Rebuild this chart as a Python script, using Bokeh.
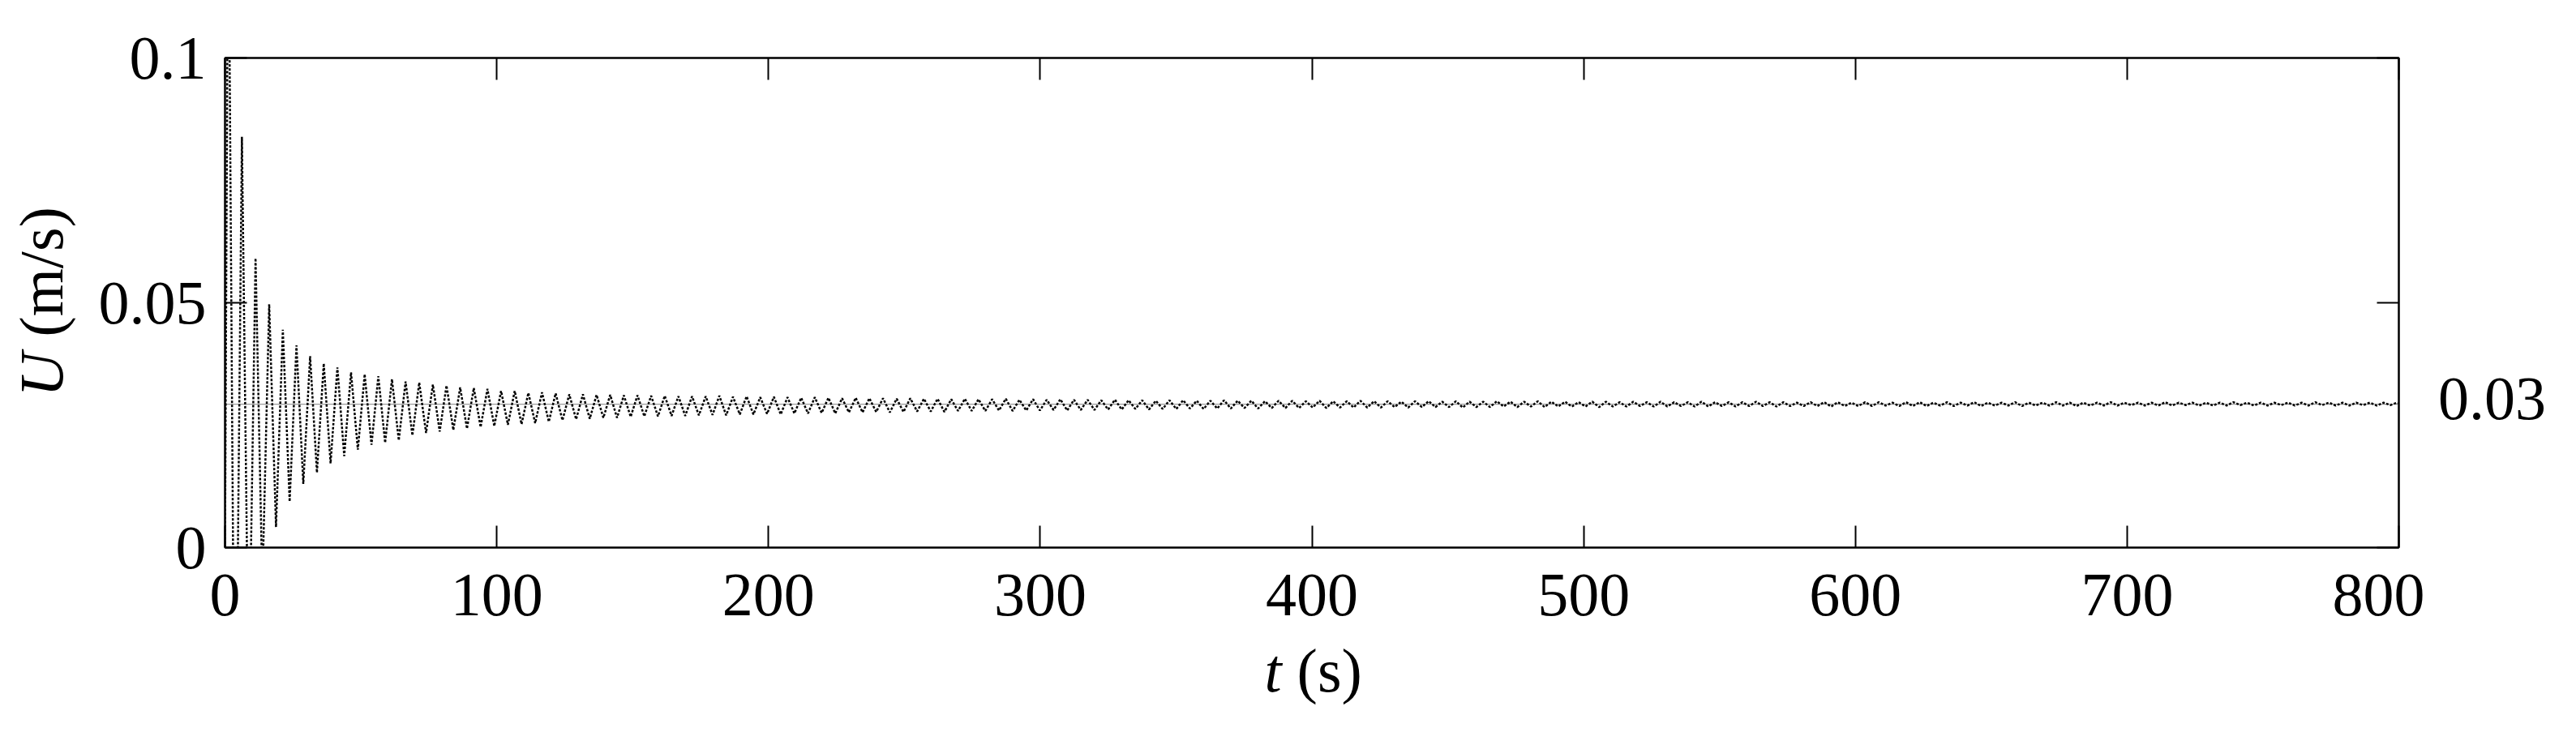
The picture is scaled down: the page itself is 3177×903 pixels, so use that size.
import math
from bokeh.plotting import figure
from bokeh.layouts import row, column
from bokeh.models import LinearAxis, FixedTicker, Label, ColumnDataSource, Range1d
from bokeh.embed import file_html
from bokeh.resources import INLINE

# ---------------- data ----------------
T_TICKS = [0, 100, 200, 300, 400, 500, 600, 700, 800]
U_TICKS = [0, 0.05, 0.1]
U_TICK_LABELS = ["0", "0.05", "0.1"]
X_LABEL = ["t", "(s)"]
Y_LABEL = ["U", "(m/s)"]
STEADY_LABEL = "0.03"
U_STEADY = 0.0293          # level of the thin grey reference line
T_START, U_START = 0.0, 0.0
FIRST_PEAK_T = 1.2         # time of first (clipped) maximum, s
PERIOD = 5.02              # oscillation period, s

# successive maxima (one per period)
PEAKS = [
    0.140, 0.0839, 0.0591, 0.0497, 0.0445, 0.0413, 0.0391, 0.0376, 0.0368, 0.0358, 0.0354, 0.0350,
    0.0344, 0.0339, 0.0337, 0.0333, 0.0331, 0.0327, 0.0326, 0.0324, 0.0320, 0.0320, 0.0316, 0.0317,
    0.0315, 0.0313, 0.0313, 0.0312, 0.0312, 0.0311, 0.0311, 0.0310, 0.0310, 0.0309, 0.0309,
    0.0309, 0.0310, 0.0308, 0.0309, 0.0307, 0.0308, 0.0307, 0.0306, 0.0307, 0.0306,
    0.0305, 0.0306, 0.0305, 0.0305, 0.0304, 0.0305, 0.0304, 0.0304, 0.0303, 0.0304,
    0.0303, 0.0303, 0.0304, 0.0302, 0.0303, 0.0302, 0.0303, 0.0302, 0.0302,
    0.0301, 0.0302, 0.0301, 0.0301, 0.0300, 0.0301, 0.0301, 0.0300, 0.0300, 0.0301,
    0.0300, 0.0300, 0.0299, 0.0300, 0.0300, 0.0299, 0.0300, 0.0299, 0.0299, 0.0300,
    0.0299, 0.0299, 0.0298, 0.0299, 0.0299, 0.0298, 0.0299, 0.0298, 0.0298, 0.0299,
    0.0298, 0.0298, 0.0299, 0.0298, 0.0298, 0.0297, 0.0298, 0.0298, 0.0297, 0.0298,
    0.0297, 0.0298, 0.0297, 0.0297, 0.0298, 0.0297, 0.0297, 0.0297, 0.0298, 0.0297,
    0.0297, 0.0296, 0.0297, 0.0297, 0.0297, 0.0296, 0.0297, 0.0297, 0.0296, 0.0297,
    0.0297, 0.0296, 0.0297,
    0.0296, 0.0297, 0.0296, 0.0296, 0.0297, 0.0296, 0.0296, 0.0297, 0.0296, 0.0296,
    0.0296, 0.0297, 0.0296, 0.0296, 0.0296, 0.0297, 0.0296, 0.0296, 0.0296, 0.0296,
    0.0297, 0.0296, 0.0296, 0.0296, 0.0296, 0.0296, 0.0297, 0.0296, 0.0296, 0.0296,
    0.0296, 0.0296, 0.0296,
]
# successive minima (half a period after each maximum)
TROUGHS = [
    -0.060, -0.030, -0.008, 0.0042, 0.0094, 0.0130, 0.0153, 0.0172, 0.0187, 0.0200, 0.0210,
    0.0214, 0.0219, 0.0229, 0.0234, 0.0237, 0.0240, 0.0243, 0.0246, 0.0248, 0.0251, 0.0252,
    0.0254, 0.0257, 0.0260,
    0.0262, 0.0263, 0.0265, 0.0265, 0.0267, 0.0268, 0.0268, 0.0269, 0.0269, 0.0270,
    0.0271, 0.0270, 0.0272, 0.0272, 0.0273, 0.0272, 0.0274, 0.0274, 0.0275, 0.0274,
    0.0276, 0.0276, 0.0277, 0.0276, 0.0277, 0.0278, 0.0278, 0.0277, 0.0279, 0.0279,
    0.0279, 0.0280, 0.0279, 0.0280, 0.0280, 0.0281, 0.0280, 0.0281, 0.0281,
    0.0282, 0.0282, 0.0283, 0.0282, 0.0283, 0.0283, 0.0284, 0.0283, 0.0284, 0.0284,
    0.0285, 0.0284, 0.0285, 0.0285, 0.0285, 0.0286, 0.0285, 0.0286, 0.0286, 0.0286,
    0.0286, 0.0287, 0.0286, 0.0287, 0.0287, 0.0287, 0.0286, 0.0287, 0.0287, 0.0288,
    0.0287, 0.0288, 0.0287, 0.0288, 0.0288, 0.0288, 0.0287, 0.0288, 0.0288, 0.0289,
    0.0288, 0.0288, 0.0289, 0.0288, 0.0288, 0.0289, 0.0288, 0.0289, 0.0289, 0.0288,
    0.0289, 0.0289, 0.0289, 0.0288, 0.0289, 0.0289, 0.0289, 0.0290, 0.0289, 0.0289,
    0.0289, 0.0290, 0.0289,
    0.0290, 0.0289, 0.0290, 0.0290, 0.0289, 0.0290, 0.0290, 0.0290, 0.0289, 0.0290,
    0.0290, 0.0290, 0.0291, 0.0290, 0.0290, 0.0290, 0.0291, 0.0290, 0.0290, 0.0290,
    0.0291, 0.0290, 0.0290, 0.0291, 0.0290, 0.0290, 0.0291, 0.0290, 0.0290, 0.0291,
    0.0290, 0.0291, 0.0290,
]

# ---------------- build the series ----------------
t_vals = [T_START]
u_vals = [U_START]
n = min(len(PEAKS), len(TROUGHS))
for k in range(n):
    tp = FIRST_PEAK_T + k * PERIOD
    t_vals.append(tp)
    u_vals.append(PEAKS[k])
    t_vals.append(tp + PERIOD / 2)
    u_vals.append(TROUGHS[k])
src = ColumnDataSource(data=dict(t=t_vals, u=u_vals))
ref = ColumnDataSource(data=dict(t=[T_TICKS[0], T_TICKS[-1]], u=[U_STEADY, U_STEADY]))

FONT = "Liberation Serif"
FS_PX = 76
FS = f"{FS_PX}px"
EM = FS_PX

# ---------------- page geometry (pixels) ----------------
W_TOTAL = 3160
LEFT_W = 110            # strip holding the y title
RIGHT_W = 170           # strip holding the "0.03" note
MAIN_W = W_TOTAL - LEFT_W - RIGHT_W
TOP_H = 800             # height of the row with the plot
OVERLAP = 30            # the x-title strip slides up under the tick labels
BOTTOM_H = 887 - TOP_H + OVERLAP
FRAME_L, FRAME_T, FRAME_W, FRAME_H = 277, 71, 2681, 604

main = figure(width=MAIN_W, height=TOP_H,
              x_range=Range1d(T_TICKS[0], T_TICKS[-1]),
              y_range=Range1d(U_TICKS[0], U_TICKS[-1]),
              output_backend="svg", toolbar_location=None,
              min_border_left=FRAME_L - LEFT_W,
              min_border_right=MAIN_W - (FRAME_L - LEFT_W) - FRAME_W,
              min_border_top=FRAME_T,
              min_border_bottom=TOP_H - FRAME_T - FRAME_H)
main.xgrid.visible = False
main.ygrid.visible = False
main.outline_line_color = "black"
main.outline_line_width = 2
main.background_fill_color = "white"
main.border_fill_color = "white"

main.line("t", "u", source=ref, line_color="#9a9a9a", line_width=1.2)
main.line("t", "u", source=src, line_color="black", line_width=2.5, line_dash="3 2")


def style_axis(ax, ticks, show_labels):
    ax.ticker = FixedTicker(ticks=ticks)
    ax.axis_line_width = 2
    ax.axis_line_color = "black"
    ax.major_tick_in = 27
    ax.major_tick_out = 0
    ax.major_tick_line_width = 2
    ax.minor_tick_line_color = None
    ax.major_label_text_font = FONT
    ax.major_label_text_font_size = FS
    ax.major_label_text_color = "black"
    if not show_labels:
        ax.major_label_text_font_size = "0px"
        ax.major_label_text_alpha = 0
        ax.major_label_standoff = 0


bx = main.xaxis[0]
style_axis(bx, T_TICKS, True)
bx.major_label_standoff = 33

ly = main.yaxis[0]
style_axis(ly, U_TICKS, True)
ly.major_label_overrides = {v: s for v, s in zip(U_TICKS, U_TICK_LABELS)}
ly.major_label_standoff = 23

top = LinearAxis()
style_axis(top, T_TICKS, False)
main.add_layout(top, "above")
right = LinearAxis()
style_axis(right, U_TICKS, False)
main.add_layout(right, "right")


def strip(w, h, xr, yr, **kw):
    """text-only figure whose data coordinates are page pixels"""
    f = figure(width=w, height=h, x_range=Range1d(*xr), y_range=Range1d(*yr),
               output_backend="svg", toolbar_location=None,
               x_axis_type=None, y_axis_type=None, min_border=0, **kw)
    f.outline_line_color = None
    f.background_fill_color = None
    f.border_fill_color = None
    f.grid.visible = False
    return f


MID = 0.3375 * EM   # baseline -> middle of the em box


def lab(fig, text, cx, cy, italic=False, angle=0.0):
    fig.add_layout(Label(x=cx, y=cy, text=text, text_font=FONT, text_font_size=FS,
                         text_color="black", angle=angle,
                         text_font_style="italic" if italic else "normal",
                         text_align="center", text_baseline="middle"))


# the side strips' frames line up with the main frame (page y 71..675)
frame_y = (FRAME_T + FRAME_H, FRAME_T)

# y title, rotated: baseline at page x=76, "U" starts at page y=489
left_fig = strip(LEFT_W, TOP_H, (0, LEFT_W), frame_y)
u_w, sp_w, ms_w = 0.722 * EM, 0.25 * EM, 2.111 * EM
lab(left_fig, Y_LABEL[0], 76 - MID, 489 - u_w / 2, italic=True, angle=math.pi / 2)
lab(left_fig, Y_LABEL[1], 76 - MID, 489 - u_w - sp_w - ms_w / 2, angle=math.pi / 2)

# steady value note on the right: digits span page x 3010..3137, centred on y 490
x0_right = LEFT_W + MAIN_W
right_fig = strip(RIGHT_W, TOP_H, (x0_right, x0_right + RIGHT_W), frame_y)
lab(right_fig, STEADY_LABEL, 3073, 491)

# x title below: "t" starts at page x 1559, baseline page y 852
bot_top = TOP_H - OVERLAP
bottom_fig = strip(W_TOTAL, BOTTOM_H, (0, W_TOTAL), (bot_top + BOTTOM_H, bot_top),
                   margin=(-OVERLAP, 0, 0, 0))
t_w, s_w = 0.278 * EM, 1.055 * EM
lab(bottom_fig, X_LABEL[0], 1559 + t_w / 2, 852 - MID, italic=True)
lab(bottom_fig, X_LABEL[1], 1559 + t_w + sp_w + s_w / 2, 852 - MID)

page = column(row(left_fig, main, right_fig, spacing=0), bottom_fig, spacing=0)

open("out.html", "w").write(file_html(page, INLINE))
